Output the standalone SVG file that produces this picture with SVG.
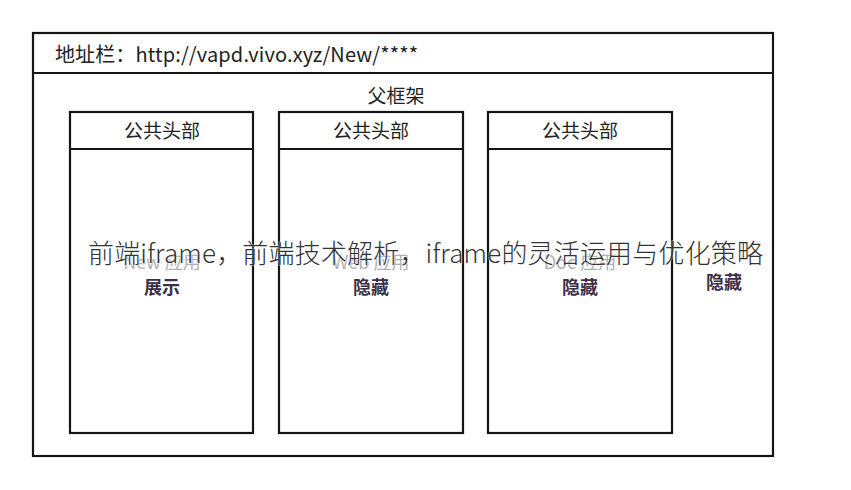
<svg xmlns="http://www.w3.org/2000/svg" width="851" height="490" viewBox="0 0 851 490">
<style>
.box{fill:none;stroke:#151515;stroke-width:2.2}
.t{font-family:"Noto Sans CJK SC","Noto Sans",sans-serif;fill:#222;font-size:19px;text-anchor:middle}
.faint{fill:#b0b0b4;font-size:18px}
.dark{fill:#3a3048;font-size:18px;font-weight:bold}
.title{font-family:"Noto Sans CJK SC","Noto Sans",sans-serif;font-size:26px;fill:#333;font-weight:300;stroke:#fff;stroke-width:2;paint-order:stroke;stroke-opacity:0.4}
</style>
<rect width="851" height="490" fill="#fff"/>
<g id="parent-frame">
<rect class="box" x="33" y="33" width="740" height="423"/>
<line class="box" x1="33" y1="73" x2="773" y2="73"/>
<text class="t" x="55" y="62" style="text-anchor:start;font-size:20px" textLength="363" lengthAdjust="spacing">地址栏：http://vapd.vivo.xyz/New/****</text>
<text class="t" x="396" y="103">父框架</text>
</g>
<g id="iframe-new">
<rect class="box" x="70" y="112" width="183" height="321"/>
<line class="box" x1="70" y1="149" x2="253" y2="149"/>
<text class="t" x="162" y="138">公共头部</text>
<text class="t faint" x="162" y="269">New 应用</text>
<text class="t dark" x="162" y="294">展示</text>
</g>
<g id="iframe-web">
<rect class="box" x="279" y="112" width="184" height="321"/>
<line class="box" x1="279" y1="149" x2="463" y2="149"/>
<text class="t" x="371" y="138">公共头部</text>
<text class="t faint" x="371" y="269">Web 应用</text>
<text class="t dark" x="371" y="294">隐藏</text>
</g>
<g id="iframe-doc">
<rect class="box" x="488" y="112" width="184" height="321"/>
<line class="box" x1="488" y1="149" x2="672" y2="149"/>
<text class="t" x="580" y="138">公共头部</text>
<text class="t faint" x="580" y="269">Doc 应用</text>
<text class="t dark" x="580" y="294">隐藏</text>
</g>
<g id="outside-hidden">
<text class="t dark" x="724" y="289">隐藏</text>
</g>
<g id="connectors"></g>
<text class="title" x="88" y="263" textLength="675" lengthAdjust="spacing">前端iframe，前端技术解析，iframe的灵活运用与优化策略</text>
</svg>
